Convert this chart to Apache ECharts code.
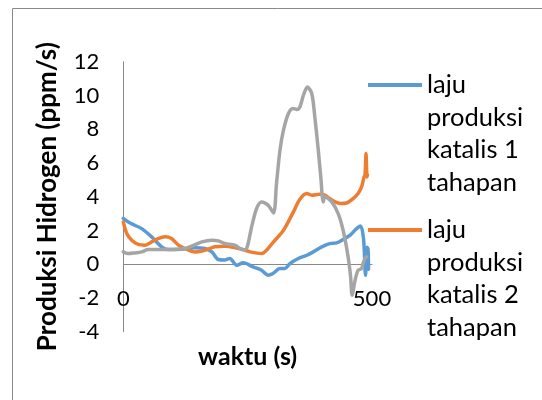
<!DOCTYPE html>
<html>
<head>
<meta charset="utf-8">
<script src="https://cdn.jsdelivr.net/npm/echarts@6/dist/echarts.min.js"></script>
<style>
  html, body { margin: 0; padding: 0; background: #fff; }
  #chart { width: 542px; height: 400px; }
</style>
</head>
<body>
<div id="chart"></div>
<script>
// Hydrogen production rate over time (s)
const seriesNames = [
  'laju produksi katalis 1 tahapan',
  'laju produksi katalis 2 tahapan',
  'laju produksi katalis 3'
];

const katalis1Time = [0, 10, 23, 37, 57, 77, 90, 117, 144, 164, 178, 191, 204, 214, 228, 241, 261, 278, 291, 301, 315, 325, 335, 352, 369, 382, 399, 415, 429, 442, 456, 469, 477, 483, 487, 490, 492, 493];
const katalis1Rate = [2.71, 2.5, 2.31, 2.11, 1.62, 1.03, 0.87, 0.89, 0.97, 0.93, 0.73, 0.28, 0.25, 0.34, -0.06, 0.08, -0.16, -0.36, -0.65, -0.55, -0.26, -0.26, 0.04, 0.34, 0.53, 0.73, 1.03, 1.22, 1.26, 1.46, 1.72, 2.11, 2.27, 1.5, -0.65, 1.0, 0.9, -0.3];

const katalis2Time = [0, 7, 17, 30, 44, 57, 70, 84, 97, 111, 124, 144, 164, 184, 204, 224, 245, 255, 278, 288, 302, 322, 342, 355, 369, 379, 395, 405, 415, 426, 436, 449, 462, 472, 479, 484, 486, 488, 490, 491];
const katalis2Rate = [2.51, 1.82, 1.42, 1.17, 1.13, 1.32, 1.52, 1.62, 1.52, 1.13, 0.93, 0.73, 0.83, 1.03, 1.07, 0.99, 0.83, 0.73, 0.63, 0.83, 1.32, 2.01, 3.1, 3.85, 4.19, 4.09, 4.15, 4.09, 3.89, 3.69, 3.6, 3.63, 3.89, 4.19, 4.58, 5.17, 5.3, 6.56, 5.17, 5.3];

const katalis3Time = [0, 10, 23, 37, 50, 70, 97, 124, 137, 158, 178, 191, 205, 224, 241, 248, 258, 268, 278, 291, 302, 308, 315, 322, 332, 341, 349, 355, 362, 370, 379, 385, 392, 397, 402, 405, 419, 432, 442, 452, 457, 460, 466, 472, 479, 482, 486, 489];
const katalis3Rate = [0.73, 0.63, 0.67, 0.73, 0.87, 0.87, 0.87, 0.93, 1.07, 1.32, 1.42, 1.38, 1.22, 1.13, 0.85, 0.93, 2.21, 3.3, 3.69, 3.5, 3.04, 4.78, 6.76, 7.94, 8.93, 9.23, 9.17, 9.32, 10.0, 10.5, 10.1, 8.73, 6.76, 5.17, 3.69, 3.99, 3.69, 3.0, 2.0, 0.43, -0.75, -1.84, -0.95, -0.36, -0.26, 0.04, 0.34, 0.43];

const xTicks = { min: 0, max: 500, step: 500 };
const yTicks = { min: -4, max: 12, step: 2 };

const colors = ['#5B9BD5', '#ED7D31', '#A5A5A5'];
const FONT = 'Lato';

function pairs(xs, ys) {
  return xs.map((x, i) => [x, ys[i]]);
}

// wrap legend names into short lines; three leading blank lines keep the
// marker level with the first line of text
function wrapName(name) {
  const words = name.split(' ');
  const lines = [];
  let cur = '';
  words.forEach(w => {
    const next = cur ? cur + ' ' + w : w;
    if (cur && next.length > 10) { lines.push(cur); cur = w; } else { cur = next; }
  });
  if (cur) lines.push(cur);
  return '\n\n\n' + lines.join('\n');
}

const LINE_H = 32.5;
const legendText = { fontFamily: FONT, fontSize: 25.5, color: '#000', lineHeight: LINE_H };

function makeLegend(name, iconCenterY) {
  return {
    data: [name], orient: 'vertical', left: 368, top: iconCenterY - 3.5 * LINE_H,
    padding: 0, icon: 'rect', itemWidth: 54, itemHeight: 4, itemGap: 0, selectedMode: false,
    formatter: wrapName, textStyle: legendText
  };
}

const chart = echarts.init(document.getElementById('chart'), null, { renderer: 'canvas' });

chart.setOption({
  backgroundColor: '#fff',
  animation: false,
  color: colors,
  graphic: [{
    type: 'rect', silent: true,
    shape: { x: 12.5, y: 8.5, width: 600, height: 500 },
    style: { fill: 'none', stroke: '#898989', lineWidth: 1 }
  }],
  legend: [makeLegend(seriesNames[0], 85), makeLegend(seriesNames[1], 230)],
  grid: { left: 123.3, right: 170, top: 61.7, bottom: 68.3, containLabel: false, outerBoundsMode: 'none' },
  xAxis: {
    type: 'value', min: xTicks.min, max: xTicks.max, interval: xTicks.step,
    name: 'waktu (s)', nameLocation: 'middle', nameGap: 13,
    nameTextStyle: { fontFamily: FONT, fontSize: 25, fontWeight: 'bold', color: '#000' },
    axisLine: { show: true, onZero: true, lineStyle: { color: '#898989', width: 1 } },
    axisTick: { show: false },
    splitLine: { show: false },
    axisLabel: { fontFamily: FONT, fontSize: 22, color: '#000', margin: -44 }
  },
  yAxis: {
    type: 'value', min: yTicks.min, max: yTicks.max, interval: yTicks.step,
    name: 'Produksi Hidrogen (ppm/s)', nameLocation: 'middle', nameGap: 63,
    nameTextStyle: { fontFamily: FONT, fontSize: 26, fontWeight: 'bold', color: '#000' },
    axisLine: { show: true, onZero: false, lineStyle: { color: '#898989', width: 1 } },
    axisTick: { show: false },
    splitLine: { show: false },
    axisLabel: { fontFamily: FONT, fontSize: 22, color: '#000', margin: 24 }
  },
  series: [
    { name: seriesNames[0], type: 'line', data: pairs(katalis1Time, katalis1Rate) },
    { name: seriesNames[1], type: 'line', data: pairs(katalis2Time, katalis2Rate) },
    { name: seriesNames[2], type: 'line', data: pairs(katalis3Time, katalis3Rate) }
  ].map((s, i) => Object.assign(s, {
    showSymbol: false, smooth: 0.3,
    lineStyle: { width: 3.5, color: colors[i], cap: 'round', join: 'round' },
    itemStyle: { color: colors[i] }
  }))
});
</script>
</body>
</html>
